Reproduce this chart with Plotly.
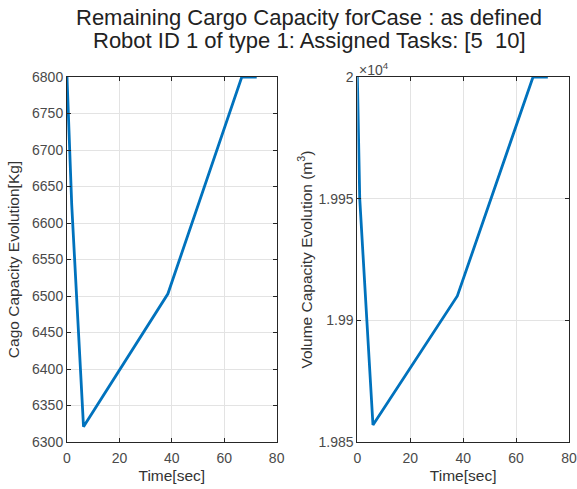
import plotly.graph_objects as go
from plotly.subplots import make_subplots

# Cargo (mass) capacity
time_cargo = [0, 1.8, 6.3, 38.5, 66.7, 72.4]
cargo_kg = [6800, 6625, 6321, 6503, 6800, 6800]

# Volume capacity
time_vol = [0, 0.9, 5.9, 37.8, 66.4, 72.0]
vol_m3 = [20000, 19950, 19857, 19910, 20000, 20000]

x_ticks = [0, 20, 40, 60, 80]
cargo_ticks = [6300, 6350, 6400, 6450, 6500, 6550, 6600, 6650, 6700, 6750, 6800]
vol_ticks = [19850, 19900, 19950, 20000]
vol_tick_text = ["1.985", "1.99", "1.995", "2"]

title_line1 = "Remaining Cargo Capacity forCase : as defined"
title_line2 = "Robot ID 1 of type 1: Assigned Tasks: [5  10]"

line_color = "#0072BD"
font_fam = "Liberation Sans, Arial, sans-serif"
tick_col = "#4a4a4a"
lab_col = "#333333"

fig = make_subplots(rows=1, cols=2)
fig.add_trace(go.Scatter(x=time_cargo, y=cargo_kg, mode="lines",
                         line=dict(color=line_color, width=2.8), showlegend=False),
              row=1, col=1)
fig.add_trace(go.Scatter(x=time_vol, y=vol_m3, mode="lines",
                         line=dict(color=line_color, width=2.8), showlegend=False),
              row=1, col=2)

axis_common = dict(showline=True, linecolor="#262626", linewidth=1, mirror="ticks",
                   ticks="inside", ticklen=4, tickcolor="#262626",
                   showgrid=True, gridcolor="#e3e3e3", gridwidth=1, zeroline=False,
                   tickfont=dict(family=font_fam, size=14, color=tick_col))

fig.update_xaxes(**axis_common, range=[0, 80], tickvals=x_ticks, ticklabelstandoff=3,
                 title=dict(text="Time[sec]", font=dict(family=font_fam, size=15.5, color=lab_col),
                            standoff=5))
fig.update_yaxes(**axis_common)
fig.update_yaxes(range=[6300, 6800], tickvals=cargo_ticks, row=1, col=1,
                 title=dict(text="Cago Capacity Evolution[Kg]",
                            font=dict(family=font_fam, size=15.5, color=lab_col), standoff=8))
fig.update_yaxes(range=[19850, 20000], tickvals=vol_ticks, ticktext=vol_tick_text, row=1, col=2,
                 title=dict(text="Volume Capacity Evolution (m<sup>3</sup>)",
                            font=dict(family=font_fam, size=15.5, color=lab_col), standoff=2))

fig.update_layout(
    width=577, height=489,
    margin=dict(l=67, r=0, t=77, b=47),
    paper_bgcolor="white", plot_bgcolor="white",
    xaxis=dict(domain=[0, 0.4176]),
    xaxis2=dict(domain=[0.5784, 1.0]),
    annotations=[
        dict(text=title_line1, xref="paper", yref="paper", x=0.4824, y=1.164,
             xanchor="center", yanchor="middle", showarrow=False,
             font=dict(family=font_fam, size=22, color="#222222")),
        dict(text=title_line2, xref="paper", yref="paper", x=0.4824, y=1.101,
             xanchor="center", yanchor="middle", showarrow=False,
             font=dict(family=font_fam, size=22, color="#222222")),
        dict(text="\u00d710<sup>4</sup>", xref="paper", yref="paper",
             x=0.5784, y=1.0, xanchor="left", yanchor="bottom", yshift=-3,
             showarrow=False, font=dict(family=font_fam, size=14, color=tick_col)),
    ],
)

fig.write_html("out.html")
